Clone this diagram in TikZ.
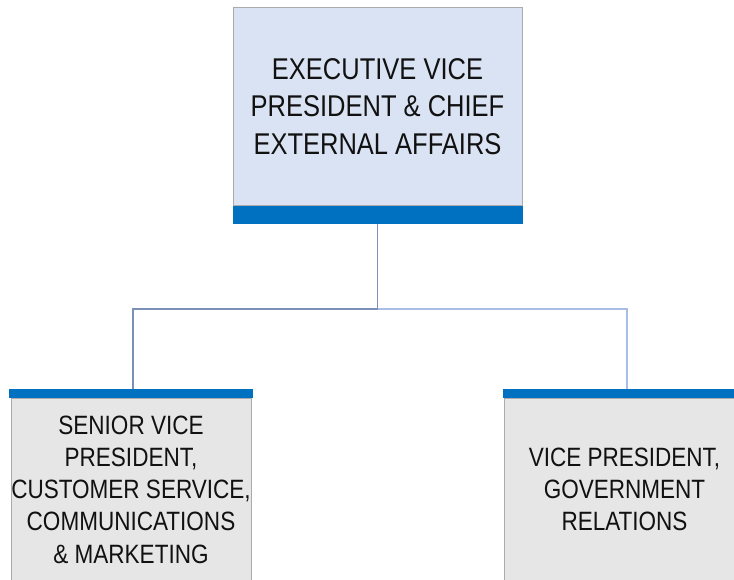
\documentclass[tikz,border=0pt]{standalone}
\usepackage{fontspec}
\setmainfont{Liberation Sans}[FakeStretch=0.85]
\usepackage{tikz}
\usetikzlibrary{positioning}
\usepackage{xcolor}

\definecolor{headblue}{HTML}{DAE3F3}
\definecolor{bandblue}{HTML}{0070C0}
\definecolor{bodygray}{HTML}{E7E6E6}
\definecolor{edgegray}{HTML}{ABABAB}
\definecolor{linkdark}{HTML}{7A90B8}
\definecolor{linklight}{HTML}{A9BEE6}
\definecolor{inkgray}{HTML}{111111}

\tikzset{
  headbox/.style={draw=edgegray, line width=0.6pt, fill=headblue, inner sep=0pt, outer sep=0pt,
    align=center, text=inkgray, font=\fontsize{30}{37.5}\selectfont},
  unitbox/.style={draw=edgegray, line width=0.6pt, fill=bodygray, inner sep=0pt, outer sep=0pt,
    align=center, text=inkgray, font=\fontsize{26.5}{32.3}\selectfont},
  bandbar/.style={fill=bandblue, inner sep=0pt, outer sep=0pt},
  link/.style={line width=1.1pt}
}

\begin{document}
\begin{tikzpicture}[x=1pt,y=-1pt]
\useasboundingbox (0,0) rectangle (734,579);

% top box
\node[headbox, minimum width=289pt, minimum height=198pt] (exec) at (377.5,106.5)
  {EXECUTIVE VICE\\PRESIDENT \& CHIEF\\EXTERNAL AFFAIRS};
\node[bandbar, minimum width=290pt, minimum height=18.5pt, below=0pt of exec] (execbar) {};

% bars of the two units
\node[bandbar, minimum width=243.4pt, minimum height=9pt] (svpbar) at (131,393.5) {};
\node[bandbar, minimum width=243pt, minimum height=9pt] (vpbar) at (624.5,393.5) {};

\node[unitbox, minimum width=240pt, minimum height=183pt, below=0pt of svpbar] (svp)
  {SENIOR VICE\\PRESIDENT,\\CUSTOMER SERVICE,\\COMMUNICATIONS\\\& MARKETING};
\node[unitbox, minimum width=240pt, minimum height=183pt, below=0pt of vpbar] (vp)
  {VICE PRESIDENT,\\GOVERNMENT\\RELATIONS};

% connectors
\coordinate (split) at (execbar.south |- 0,309);
\draw[link, linkdark] (execbar.south) -- (split);
\draw[link, linkdark] (split) -| ([xshift=2pt]svpbar.north);
\draw[link, linklight] (split) -| ([xshift=2.5pt]vpbar.north);
\end{tikzpicture}
\end{document}
